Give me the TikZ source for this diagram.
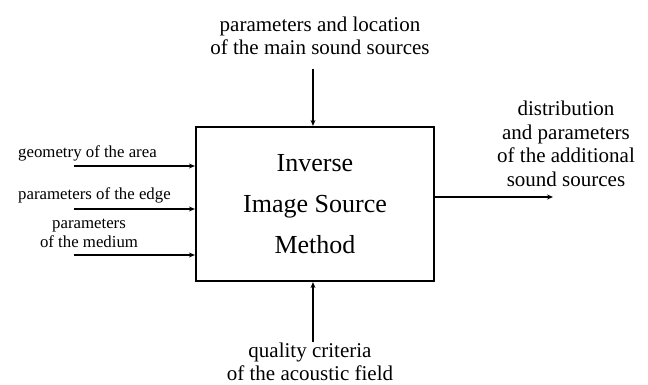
\documentclass[tikz,border=0pt]{standalone}
\usepackage{fontspec}
\setmainfont{Liberation Serif}
\usetikzlibrary{arrows.meta}
\begin{document}
\begin{tikzpicture}[x=1pt,y=-1pt,
  lbl/.style={inner sep=0pt,align=center,font=\fontsize{21}{23.5}\selectfont},
  sml/.style={inner sep=0pt,align=center,font=\fontsize{16.8}{19}\selectfont},
  arr/.style={line width=1.1pt,-{Stealth[length=6pt,width=5pt]}},
  mainbox/.style={draw,line width=2.2pt,minimum width=238pt,minimum height=154pt,inner sep=0pt,align=center,font=\fontsize{26}{41}\selectfont}]
\useasboundingbox (0,0) rectangle (648,385);
\node[mainbox] (m) at (315,204) {Inverse\\Image Source\\Method};
\node[lbl] (top) at (320,36) {parameters and location\\of the main sound sources};
\node[lbl] (bot) at (310,362) {quality criteria\\of the acoustic field};
\node[lbl] (right) at (566,144) {distribution\\and parameters\\of the additional\\sound sources};
\node[sml,anchor=west] (g) at (18,153) {geometry of the area};
\node[sml,anchor=west] (e) at (18,195) {parameters of the edge};
\node[sml] (md) at (89,233) {parameters\\of the medium};
\coordinate (tops) at (313,69);
\coordinate (bots) at (313,342);
\coordinate (rend) at (553,197);
\coordinate (g0) at (74,166);
\coordinate (e0) at (74,209);
\coordinate (m0) at (74,255);
\draw[arr] (tops) -- (m.north -| tops);
\draw[arr] (bots) -- (m.south -| bots);
\draw[arr] (m.east |- rend) -- (rend);
\draw[arr] (g0) -- (m.west |- g0);
\draw[arr] (e0) -- (m.west |- e0);
\draw[arr] (m0) -- (m.west |- m0);
\end{tikzpicture}
\end{document}
